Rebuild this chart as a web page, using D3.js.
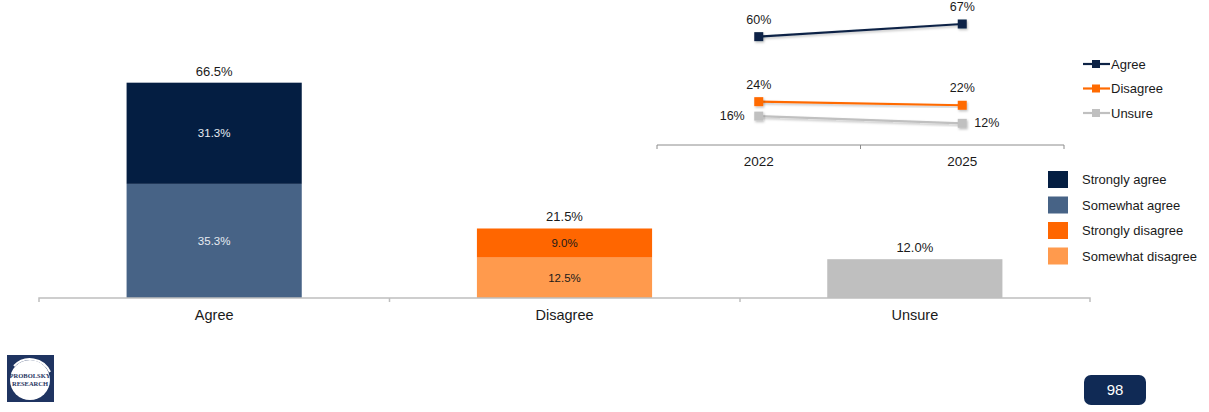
<!DOCTYPE html>
<html><head><meta charset="utf-8">
<script src="https://cdn.jsdelivr.net/npm/d3@7"></script>
<style>body{margin:0;background:#fff;font-family:Arial,"Liberation Sans",sans-serif}</style>
</head><body>
<svg id="c" width="1209" height="412"></svg>
<script>
const categories = ["Agree","Disagree","Unsure"];
const strongVals = [31.3, 9.0, 0];
const somewhatVals = [35.3, 12.5, 12.0];
const totals = [66.5, 21.5, 12.0];
const segColors = {strong:["#041e42","#ff6600","#bfbfbf"], somewhat:["#476386","#ff9a4d","#bfbfbf"]};
const years = ["2022","2025"];
const lineSeries = [
  {name:"Agree", values:[60,67], color:"#0d2346"},
  {name:"Disagree", values:[24,22], color:"#ff6a00"},
  {name:"Unsure", values:[16,12], color:"#c0c0c0"}
];
const barLegend = [["Strongly agree","#041e42"],["Somewhat agree","#476386"],["Strongly disagree","#ff6600"],["Somewhat disagree","#ff9a4d"]];
const pageNum = "98";

const svg = d3.select("#c");
const font = "Arial, 'Liberation Sans', sans-serif";

// Bar chart
const x = d3.scaleBand().domain(categories).range([39,1090]).paddingInner(0).paddingOuter(0);
const y = d3.scaleLinear().domain([0,100]).range([298, 298-323.3]);
const bw = x.bandwidth()*0.5;
const g = svg.append("g");
categories.forEach((c,i)=>{
  const cx = x(c)+x.bandwidth()/2;
  g.append("rect").attr("x",cx-bw/2).attr("width",bw)
    .attr("y",y(somewhatVals[i])).attr("height",y(0)-y(somewhatVals[i]))
    .attr("fill",segColors.somewhat[i]);
  if(strongVals[i]>0){
    g.append("rect").attr("x",cx-bw/2).attr("width",bw)
      .attr("y",y(somewhatVals[i]+strongVals[i])).attr("height",y(somewhatVals[i])-y(somewhatVals[i]+strongVals[i]))
      .attr("fill",segColors.strong[i]);
    const dark = i===0;
    g.append("text").attr("x",cx).attr("y",(y(somewhatVals[i])+y(somewhatVals[i]+strongVals[i]))/2+4)
      .attr("text-anchor","middle").attr("font-size",11.5).attr("font-family",font)
      .attr("fill",dark?"#e8ecf2":"#1a1a1a").text(strongVals[i].toFixed(1)+"%");
    g.append("text").attr("x",cx).attr("y",(y(0)+y(somewhatVals[i]))/2+4)
      .attr("text-anchor","middle").attr("font-size",11.5).attr("font-family",font)
      .attr("fill",dark?"#e8ecf2":"#1a1a1a").text(somewhatVals[i].toFixed(1)+"%");
  }
  g.append("text").attr("x",cx).attr("y",y(totals[i])-7)
    .attr("text-anchor","middle").attr("font-size",13).attr("font-family",font)
    .attr("fill","#1a1a1a").text(totals[i].toFixed(1)+"%");
});
const xAxis = d3.axisBottom(x).tickSize(0).tickPadding(12);
const ax = svg.append("g").attr("transform","translate(0,298)").call(xAxis);
ax.select(".domain").attr("stroke","#bfbfbf").attr("stroke-width",1.5).attr("d","M39,4V0H1090V4");
ax.selectAll("text").attr("font-size",14.5).attr("font-family",font).attr("fill","#1a1a1a");
[389.5,740].forEach(t=>svg.append("line").attr("x1",t).attr("x2",t).attr("y1",298).attr("y2",302).attr("stroke","#bfbfbf").attr("stroke-width",1.5));

// Line chart inset
const lx = d3.scaleBand().domain(years).range([657,1064]);
const ly = d3.scaleLinear().domain([0,100]).range([145, 145-180.6]);
const lax = svg.append("g").attr("transform","translate(0,145)").call(d3.axisBottom(lx).tickSize(0).tickPadding(11));
lax.select(".domain").attr("stroke","#8c8c8c").attr("stroke-width",1).attr("d","M657,4V0H1064V4");
lax.selectAll("text").attr("font-size",13.5).attr("font-family",font).attr("fill","#1a1a1a");
svg.append("line").attr("x1",860.5).attr("x2",860.5).attr("y1",145).attr("y2",149).attr("stroke","#8c8c8c");
const defs = svg.append("defs");
const f = defs.append("filter").attr("id","sh").attr("x","-50%").attr("y","-50%").attr("width","200%").attr("height","200%");
f.append("feDropShadow").attr("dx",1).attr("dy",1.5).attr("stdDeviation",1).attr("flood-color","#000").attr("flood-opacity",0.25);
const cxL = d=>lx(d)+lx.bandwidth()/2;
const line = d3.line().x((v,j)=>cxL(years[j])).y(v=>ly(v));
const labelPos = {
  "Agree":[[0,-13,"middle"],[0,-13,"middle"]],
  "Disagree":[[0,-13,"middle"],[0,-13,"middle"]],
  "Unsure":[[-14,4,"end"],[12,4,"start"]]
};
lineSeries.forEach(s=>{
  svg.append("path").attr("d",line(s.values)).attr("fill","none").attr("stroke",s.color).attr("stroke-width",2.2).attr("filter","url(#sh)");
  s.values.forEach((v,j)=>{
    const px = cxL(years[j]), py = ly(v);
    svg.append("rect").attr("x",px-4.5).attr("y",py-4.5).attr("width",9).attr("height",9).attr("fill",s.color).attr("filter","url(#sh)");
    const lp = labelPos[s.name][j];
    svg.append("text").attr("x",px+lp[0]).attr("y",py+lp[1]).attr("text-anchor",lp[2])
      .attr("font-size",12.5).attr("font-family",font).attr("fill","#1a1a1a").text(v+"%");
  });
});
// line legend
lineSeries.forEach((s,i)=>{
  const yy = 64 + i*24.5;
  svg.append("line").attr("x1",1083).attr("x2",1110).attr("y1",yy).attr("y2",yy).attr("stroke",s.color).attr("stroke-width",2.2);
  svg.append("rect").attr("x",1092).attr("y",yy-4).attr("width",8).attr("height",8).attr("fill",s.color);
  svg.append("text").attr("x",1111).attr("y",yy+4.5).attr("font-size",13).attr("font-family",font).attr("fill","#1a1a1a").text(s.name);
});
// bar legend
barLegend.forEach((d,i)=>{
  const yy = 171 + i*25.5;
  svg.append("rect").attr("x",1048).attr("y",yy).attr("width",20).attr("height",17).attr("fill",d[1]);
  svg.append("text").attr("x",1082).attr("y",yy+13).attr("font-size",13).attr("font-family",font).attr("fill","#1a1a1a").text(d[0]);
});

// page number
svg.append("rect").attr("x",1084).attr("y",375).attr("width",62).attr("height",30).attr("rx",7).attr("fill","#102a55");
svg.append("text").attr("x",1115).attr("y",395).attr("text-anchor","middle").attr("font-size",15).attr("font-family",font).attr("fill","#fff").text(pageNum);

// logo
const lg = svg.append("g");
lg.append("rect").attr("x",7).attr("y",355).attr("width",47).attr("height",47).attr("fill","#1f3461");
lg.append("circle").attr("cx",30).attr("cy",380).attr("r",20).attr("fill","#fff");
lg.append("path").attr("d","M14,366 A22,22 0 0 1 50,372").attr("fill","none").attr("stroke","#fff").attr("stroke-width",2);
lg.append("text").attr("x",30).attr("y",378).attr("text-anchor","middle").attr("font-size",6.5).attr("font-weight","bold").attr("font-family","'Liberation Serif',serif").attr("fill","#1f3461").text("PROBOLSKY");
lg.append("text").attr("x",30).attr("y",386).attr("text-anchor","middle").attr("font-size",6.5).attr("font-weight","bold").attr("font-family","'Liberation Serif',serif").attr("fill","#1f3461").text("RESEARCH");
</script>
</body></html>
